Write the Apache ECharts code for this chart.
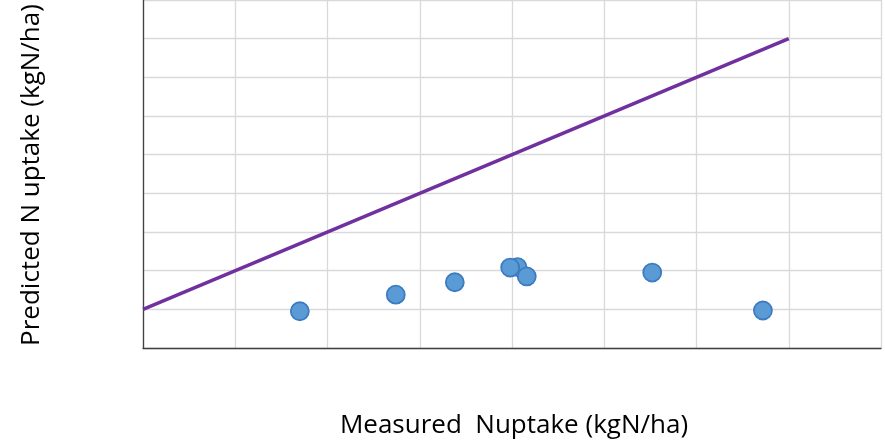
<!DOCTYPE html>
<html>
<head>
<meta charset="utf-8">
<script src="https://cdn.jsdelivr.net/npm/echarts@6/dist/echarts.min.js"></script>
<style>html,body{margin:0;padding:0;background:#fff}#c{width:885px;height:441px}</style>
</head>
<body>
<div id="c"></div>
<script>
const measured = [135, 187, 219, 253, 249, 258, 326, 386];
const predicted = [47.5, 69, 85, 104.5, 104, 92.5, 97.5, 48.5];
const lineX = [50, 400];
const lineY = [50, 400];
const xTitle = 'Measured  Nuptake (kgN/ha)';
const yTitle = 'Predicted N uptake (kgN/ha)';

const font = 'Open Sans, sans-serif';
const chart = echarts.init(document.getElementById('c'), null, {renderer: 'canvas'});
chart.setOption({
  animation: false,
  backgroundColor: '#ffffff',
  grid: {left: 143, right: 4, top: -1, bottom: 93, containLabel: false},
  xAxis: {
    type: 'value', min: 50, max: 450, interval: 50,
    axisLine: {show: true, onZero: false, lineStyle: {color: '#404040', width: 1.3}},
    axisTick: {show: false}, axisLabel: {show: false},
    splitLine: {show: true, lineStyle: {color: '#D9D9D9', width: 1.3}}
  },
  yAxis: {
    type: 'value', min: 0, max: 450, interval: 50,
    axisLine: {show: true, onZero: false, lineStyle: {color: '#404040', width: 1.3}},
    axisTick: {show: false}, axisLabel: {show: false},
    splitLine: {show: true, lineStyle: {color: '#D9D9D9', width: 1.3}}
  },
  graphic: [
    {type: 'text', x: 514, y: 426, style: {text: xTitle, x: 0, y: 0, font: '26px ' + font, fill: '#000', align: 'center', verticalAlign: 'middle'}},
    {type: 'text', x: 32, y: 175, rotation: Math.PI / 2, style: {text: yTitle, x: 0, y: 0, font: '26px ' + font, fill: '#000', align: 'center', verticalAlign: 'middle'}}
  ],
  series: [
    {
      type: 'line', data: lineX.map((x, i) => [x, lineY[i]]), symbol: 'none',
      lineStyle: {color: '#7030A0', width: 3.5}, z: 2
    },
    {
      type: 'scatter', data: measured.map((x, i) => [x, predicted[i]]),
      symbolSize: 18,
      itemStyle: {color: '#5B9BD5', borderColor: '#3C7CC0', borderWidth: 1.8, opacity: 1}, z: 3
    }
  ]
});
</script>
</body>
</html>
